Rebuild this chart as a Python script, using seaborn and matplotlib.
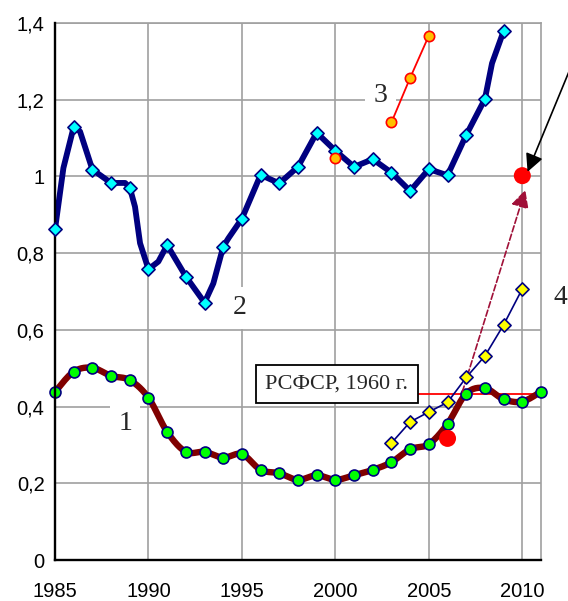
import numpy as np
import pandas as pd
import matplotlib
matplotlib.use("Agg")
import matplotlib.pyplot as plt
import seaborn as sns
from matplotlib.ticker import FuncFormatter

# ---------------- data ----------------
years1 = list(range(1985, 2012))
vals1 = [0.438, 0.491, 0.501, 0.480, 0.469, 0.423, 0.334, 0.282, 0.282, 0.267,
         0.276, 0.235, 0.226, 0.209, 0.221, 0.209, 0.221, 0.235, 0.255, 0.289,
         0.302, 0.355, 0.434, 0.448, 0.419, 0.413, 0.439]

years2 = list(range(1985, 2010))
vals2 = [0.862, 1.129, 1.018, 0.983, 0.971, 0.758, 0.821, 0.739, 0.671, 0.817,
         0.890, 1.004, 0.982, 1.025, 1.114, 1.067, 1.025, 1.045, 1.010, 0.962,
         1.019, 1.003, 1.108, 1.202, 1.379]
# extra (unmarked) vertices of curve 2
line2_extra_x = [1985.45, 1986.34, 1988.75, 1989.28, 1989.55, 1990.53, 1993.47, 1994.28, 2008.38]
line2_extra_y = [1.022, 1.117, 0.983, 0.921, 0.826, 0.778, 0.721, 0.839, 1.295]

years3 = [2003, 2004, 2005]
vals3 = [1.141, 1.257, 1.367]
single3_year = [2000]
single3_val = [1.047]

years4 = [2003, 2004, 2005, 2006, 2007, 2008, 2009, 2010]
vals4 = [0.305, 0.360, 0.386, 0.411, 0.476, 0.532, 0.613, 0.707]

red_years = [2006, 2010]
red_vals = [0.317, 1.002]

rsfsr_level = 0.432
rsfsr_label = "РСФСР, 1960 г."
curve_labels = ["1", "2", "3", "4"]

xticks = [1985, 1990, 1995, 2000, 2005, 2010]
yticks = [0, 0.2, 0.4, 0.6, 0.8, 1.0, 1.2, 1.4]


def smooth(x, y, n=24):
    pts = np.column_stack([x, y]).astype(float)
    P = np.vstack([pts[0], pts, pts[-1]])
    out = []
    t = np.linspace(0, 1, n, endpoint=False)[:, None]
    for i in range(1, len(P) - 2):
        p0, p1, p2, p3 = P[i - 1], P[i], P[i + 1], P[i + 2]
        seg = 0.5 * ((2 * p1) + (-p0 + p2) * t + (2 * p0 - 5 * p1 + 4 * p2 - p3) * t ** 2
                     + (-p0 + 3 * p1 - 3 * p2 + p3) * t ** 3)
        out.append(seg)
    out.append(pts[-1:])
    s = np.vstack(out)
    return s[:, 0], s[:, 1]


sns.set_style("white")
plt.rcParams['font.family'] = ['Liberation Sans', 'DejaVu Sans']

fig = plt.figure(figsize=(5.68, 6.01), dpi=100)
ax = fig.add_axes([55 / 568, 1 - 560 / 601, (541 - 55) / 568, (560 - 23) / 601])

# RSFSR level line
ax.hlines(rsfsr_level, 1996.0, 2011, color='red', lw=1.3, zorder=3)

# curve 1 (smoothed)
sx, sy = smooth(years1, vals1)
sns.lineplot(x=sx, y=sy, sort=False, estimator=None, color='#800000', lw=4.6, ax=ax, zorder=4)
sns.scatterplot(x=years1, y=vals1, marker='o', s=62, color='#00ff00', edgecolor='#000080',
                linewidth=1.2, ax=ax, zorder=5, clip_on=False)

# curve 4
sns.lineplot(x=years4, y=vals4, sort=False, estimator=None, color='#000080', lw=1.2, ax=ax, zorder=6)
sns.scatterplot(x=years4, y=vals4, marker='D', s=45, color='#ffff00', edgecolor='#000080',
                linewidth=1.2, ax=ax, zorder=7)

# curve 2
l2 = pd.DataFrame({'x': years2 + line2_extra_x, 'y': vals2 + line2_extra_y}).sort_values('x')
sns.lineplot(data=l2, x='x', y='y', sort=False, estimator=None, color='#000080', lw=4.2, ax=ax, zorder=6)
sns.scatterplot(x=years2, y=vals2, marker='D', s=45, color='#00ffff', edgecolor='#000080',
                linewidth=1.2, ax=ax, zorder=7, clip_on=False)

# curve 3
sns.lineplot(x=years3, y=vals3, sort=False, estimator=None, color='#ff0000', lw=1.3, ax=ax, zorder=6)
sns.scatterplot(x=years3 + single3_year, y=vals3 + single3_val, marker='o', s=55, color='#ffc000',
                edgecolor='#ff0000', linewidth=1.2, ax=ax, zorder=8)

# red points
sns.scatterplot(x=red_years, y=red_vals, marker='o', s=150, color='#ff0000', edgecolor='none',
                linewidth=0, ax=ax, zorder=9)

ax.set_xlim(1985, 2011)
ax.set_ylim(0, 1.4)
ax.set_xticks(xticks)
ax.set_yticks(yticks)
ax.set_xlabel('')
ax.set_ylabel('')
ax.yaxis.set_major_formatter(FuncFormatter(lambda v, p: ('%g' % round(v, 1)).replace('.', ',')))
ax.grid(True, color='#a0a0a0', lw=1.2)
ax.set_axisbelow(True)
for s in ['left', 'bottom']:
    ax.spines[s].set_color('black')
    ax.spines[s].set_linewidth(1.7)
    ax.spines[s].set_zorder(6)
for s in ['top', 'right']:
    ax.spines[s].set_color('#a0a0a0')
    ax.spines[s].set_linewidth(1.2)
ax.tick_params(axis='both', direction='out', length=6, width=1.3, color='black',
               labelsize=14.5, labelcolor='black')
ax.tick_params(axis='y', pad=1.5)
ax.tick_params(axis='x', pad=10)

# arrows
ax.annotate('', xy=(2010.28, 1.012), xytext=(2013.64, 1.408),
            arrowprops=dict(arrowstyle='-|>,head_length=0.6,head_width=0.3', color='black',
                            lw=1.2, mutation_scale=18, shrinkA=0, shrinkB=0),
            annotation_clip=False, zorder=10)
ax.annotate('', xy=(2010.16, 0.965), xytext=(2006.79, 0.438),
            arrowprops=dict(arrowstyle='-|>,head_length=0.6,head_width=0.3', color='#a01038',
                            lw=1.2, ls='--', mutation_scale=18, shrinkA=0, shrinkB=0),
            zorder=5)

# labels
serif = ['Liberation Serif', 'DejaVu Serif']
lab_kw = dict(fontsize=20, family=serif, ha='center', va='center', zorder=4,
              bbox=dict(boxstyle='square,pad=0.3', fc='white', ec='none'))
ax.text(1988.75, 0.357, curve_labels[0], **lab_kw)
ax.text(1994.90, 0.657, curve_labels[1], **lab_kw)
ax.text(2002.40, 1.210, curve_labels[2], **lab_kw)
fig.text(553 / 568, 1 - 298 / 601, curve_labels[3], fontsize=20, family=serif, ha='left', va='center')

ax.text(2000.07, 0.459, rsfsr_label, fontsize=16, family=serif, ha='center', va='center', zorder=8,
        bbox=dict(boxstyle='square,pad=0.42', fc='white', ec='black', lw=1.3))

fig.savefig('out.png', dpi=100, facecolor='white')
